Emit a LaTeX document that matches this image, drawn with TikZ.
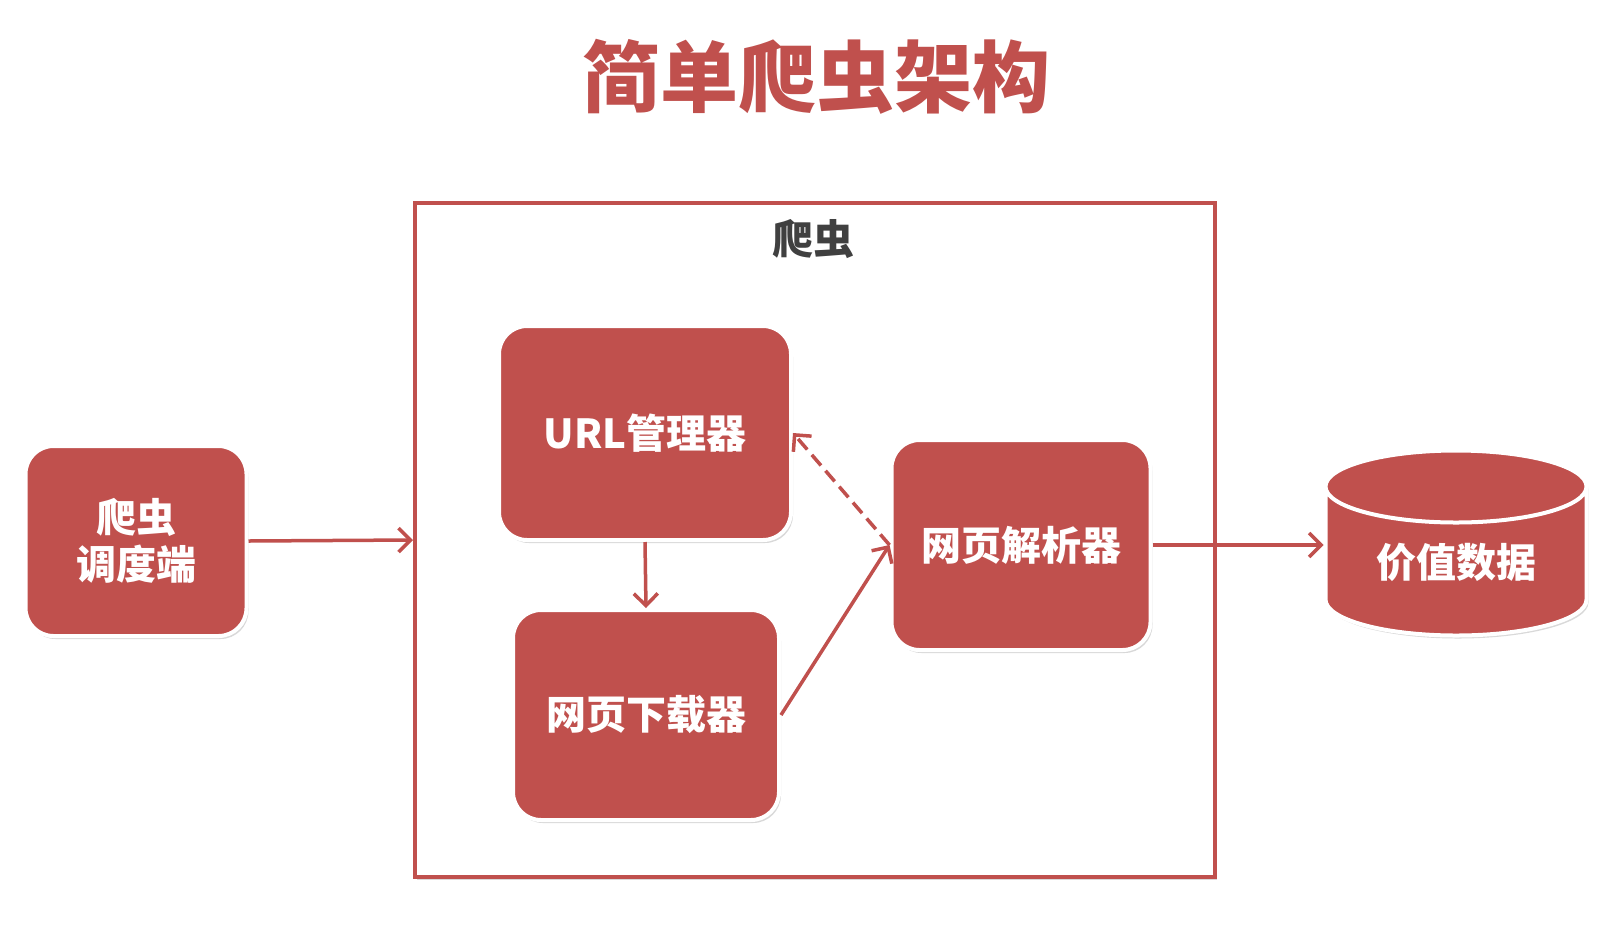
\documentclass[tikz,border=0pt]{standalone}
\usepackage{fontspec}
\newfontfamily\cjk{Noto Sans CJK SC}
\usetikzlibrary{arrows.meta,shadows,shapes.geometric}
\definecolor{brick}{HTML}{C0504D}
\definecolor{ink}{HTML}{404040}

\begin{document}
\begin{tikzpicture}[x=1pt,y=-1pt,
  lbl/.style={fill=brick,draw=white,line width=4pt,text=white,inner sep=0pt,
    font=\cjk\bfseries\fontsize{40}{47}\selectfont,align=center,
    drop shadow={shadow xshift=2pt,shadow yshift=-3pt,opacity=0.3}},
  blk/.style={lbl,rounded corners=28pt},
  flow/.style={brick,line width=3.5pt,-{Straight Barb[length=12pt,width=24pt]}}]
  \useasboundingbox (0,0) rectangle (1614,930);
  % title
  \node[text=brick,font=\cjk\bfseries\fontsize{78}{80}\selectfont] (title)
    at (816,77) {简单爬虫架构};
  % crawler frame with its three parts
  \node[draw=brick,line width=4pt,fill=white,inner sep=0pt,
    minimum width=800pt,minimum height=674pt,
    drop shadow={shadow xshift=2pt,shadow yshift=-3pt,opacity=0.3}]
    (crawler) at (815,540) {};
  \node[text=ink,font=\cjk\bfseries\fontsize{41}{41}\selectfont] (crawlername)
    at (813,239) {爬虫};
  \node[blk,minimum width=292pt,minimum height=214pt] (url) at (645,433) {URL管理器};
  \node[blk,minimum width=266pt,minimum height=210pt] (down) at (646,715) {网页下载器};
  \node[blk,minimum width=259pt,minimum height=210pt] (parse) at (1021,545) {网页解析器};
  % outside the frame
  \node[blk,minimum width=221pt,minimum height=190pt] (sched) at (136,541) {爬虫\\调度端};
  \node[lbl,cylinder,shape border rotate=90,aspect=0.45,
    minimum width=261pt,minimum height=185pt] (data) at (1456,562) {价值数据};
  % connectors
  \draw[flow] (sched.east) -- (crawler.west);
  \draw[flow] (url.south) -- (down.north);
  \draw[flow] (down.east) -- (parse.west);
  \draw[flow,dash pattern=on 14pt off 7pt] (parse.west) -- (url.east);
  \draw[flow] (parse.east) -- (parse.east -| data.west);
\end{tikzpicture}
\end{document}
